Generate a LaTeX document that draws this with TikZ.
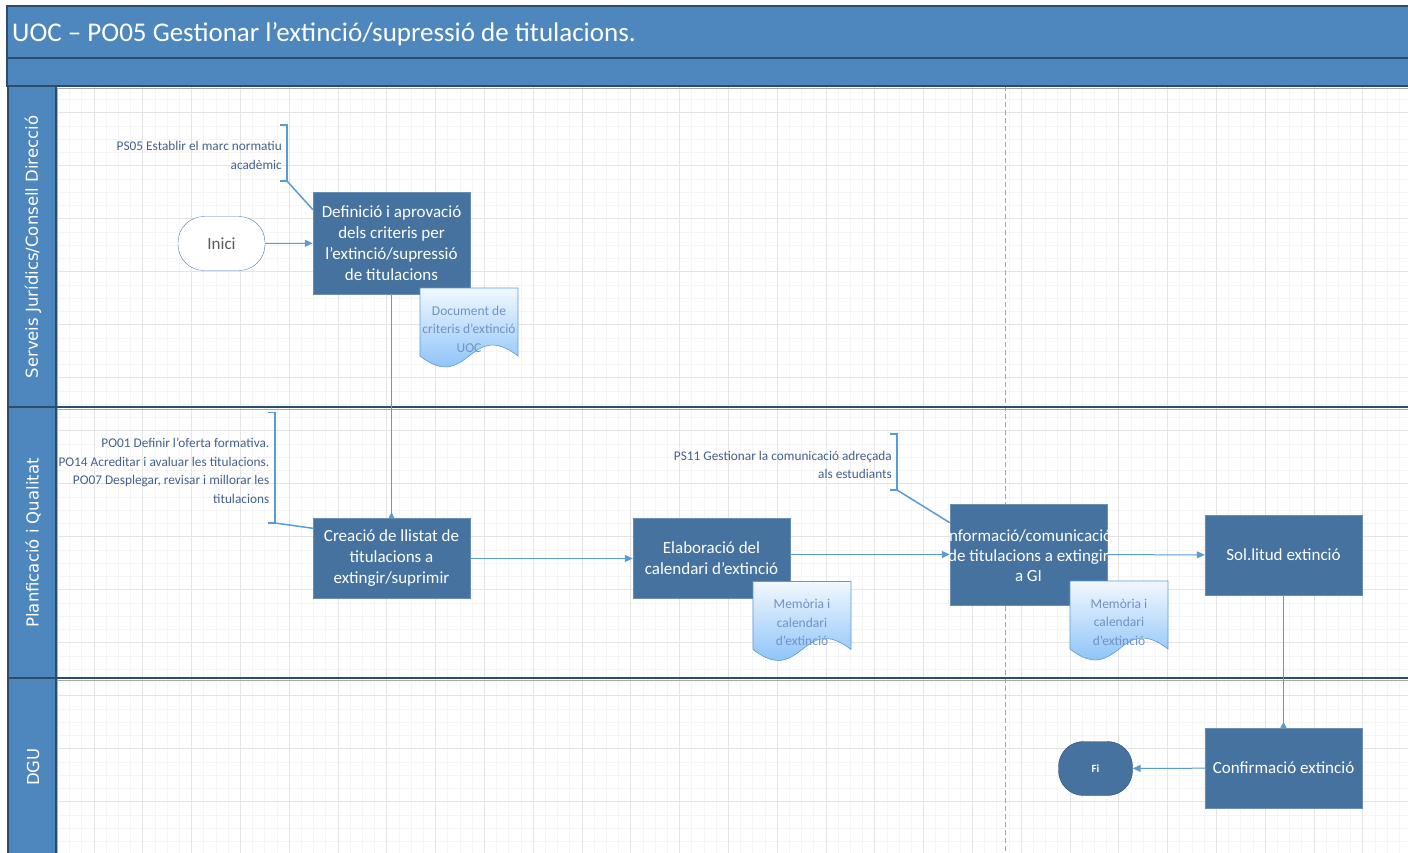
\documentclass[tikz,border=0pt]{standalone}
\usepackage{fontspec}
\setmainfont{Carlito}
\newfontfamily\lanefont{DejaVu Sans}
\usetikzlibrary{arrows.meta}
\definecolor{barblue}{HTML}{4E87BD}
\definecolor{edgeblue}{HTML}{2D4B6C}
\definecolor{boxblue}{HTML}{45729E}
\definecolor{linkblue}{HTML}{5B9BD5}
\definecolor{notetext}{HTML}{44618C}
\definecolor{doctext}{HTML}{6F93C4}
\definecolor{docwhite}{HTML}{F2F8FE}
\definecolor{docblue}{HTML}{6DB3F7}
\definecolor{gridminor}{HTML}{F5F5F5}
\definecolor{gridmajor}{HTML}{E4E4E4}
\tikzset{
  proc/.style={draw=boxblue!80!white, fill=boxblue, text=white, align=center, inner sep=0pt,
    minimum width=157pt, minimum height=80pt, font=\fontsize{17}{21}\selectfont},
  note/.style={text=notetext, align=right, anchor=east, inner sep=0pt, font=\fontsize{13.3}{18.7}\selectfont},
  bracket/.style={draw=linkblue, line width=1.5pt},
  link/.style={draw=linkblue, line width=1pt, -{Triangle[length=8pt,width=7pt]}},
  uplink/.style={draw=linkblue, line width=1pt, -{Triangle[reversed,length=6pt,width=6pt]}},
  doctxt/.style={text=doctext, align=center, inner sep=0pt, font=\fontsize{13.5}{18.5}\selectfont},
  lane/.style={text=white, rotate=90, inner sep=0pt, font=\lanefont\fontsize{16.5}{18}\selectfont},
}
% document symbol with wavy bottom: name, left x, top y, text
\newcommand{\docpaper}[4]{%
  \shade[top color=docwhite, bottom color=docblue, draw=linkblue, line width=0.6pt]
    (#2,#3) -- ({#2+98},#3) -- ({#2+98},{#3+68})
    .. controls ({#2+49},{#3+30}) and ({#2+49},{#3+106}) .. (#2,{#3+68}) -- cycle;
  \node[doctxt] (#1) at ({#2+49},{#3+41}) {#4};}
\begin{document}
\begin{tikzpicture}[x=1pt, y=-1pt]
  \useasboundingbox[fill=white] (0,0) rectangle (1408,853);
  % grid
  \foreach \k in {-3,...,107} \draw[gridminor, line width=0.8pt] ({94+12.2*\k},86) -- ({94+12.2*\k},853);
  \foreach \k in {2,...,59} \draw[gridminor, line width=0.8pt] (57,{59.7+13.25*\k}) -- (1408,{59.7+13.25*\k});
  \foreach \k in {0,...,26} \draw[gridmajor, line width=1pt] ({94+48.8*\k},86) -- ({94+48.8*\k},853);
  \foreach \k in {1,...,14} \draw[gridmajor, line width=1pt] (57,{59.7+53*\k}) -- (1408,{59.7+53*\k});
  \draw[gray!70, dash pattern=on 5pt off 3pt, line width=0.8pt] (1005,86) -- (1005,853);
  % title bars
  \draw[fill=barblue, draw=edgeblue, line width=1.2pt] (7,6) rectangle (1412,58);
  \draw[fill=barblue, draw=edgeblue, line width=1.5pt] (7,58) rectangle (1412,86);
  \draw[gray!70, line width=1.5pt] (57,88.5) -- (1408,88.5);
  \node[anchor=west, text=white, inner sep=0pt, font=\fontsize{27}{30}\selectfont] (title) at (12,34)
    {UOC – PO05 Gestionar l’extinció/supressió de titulacions.};
  % lanes
  \draw[fill=barblue, draw=edgeblue, line width=2pt] (8,86) rectangle (56,407);
  \draw[fill=barblue, draw=edgeblue, line width=2pt] (8,407) rectangle (56,678);
  \draw[fill=barblue, draw=edgeblue, line width=2pt] (8,678) rectangle (56,860);
  \draw[gray!60, line width=1.2pt] (57.5,88) -- (57.5,853);
  \draw[edgeblue, line width=2pt] (56,406.5) -- (1408,406.5);
  \draw[gray!70, line width=1.5pt] (57,409.5) -- (1408,409.5);
  \draw[edgeblue, line width=2pt] (56,677.5) -- (1408,677.5);
  \draw[gray!70, line width=1.5pt] (57,680.5) -- (1408,680.5);
  \node[lane] (lsj) at (33,247) {Serveis Jurídics/Consell Direcció};
  \node[lane] (lpq) at (33,543) {Planficació i Qualitat};
  \node[lane] (ldgu) at (33,767) {DGU};

  % steps
  \node[draw=linkblue!80!black, fill=white, rounded corners=26pt, minimum width=87pt, minimum height=54pt,
    text=black!65, font=\fontsize{17}{19}\selectfont] (inici) at (221.5,243.5) {Inici};
  \node[proc, minimum height=102pt] (def) at (391.5,243)
    {Definició i aprovació\\dels criteris per\\l’extinció/supressió\\de titulacions};
  \node[proc] (creacio) at (391.5,558.5) {Creació de llistat de\\titulacions a\\extingir/suprimir};
  \node[proc] (elab) at (711.5,558.5) {Elaboració del\\calendari d’extinció};
  \node[proc, minimum height=101pt] (info) at (1028.5,554.5) {};
  \begin{scope}
    \clip (info.south west) rectangle (info.north east);
    \node[text=white, align=center, inner sep=0pt, font=\fontsize{17}{20}\selectfont] (infotxt) at (1028.5,556)
      {Informació/comunicació\\de titulacions a extingir\\a GI};
  \end{scope}
  \node[proc] (sol) at (1283.5,555) {Sol.litud extinció};
  \node[proc] (conf) at (1283.5,768) {Confirmació extinció};
  \node[draw=edgeblue, fill=boxblue, rounded corners=25pt, minimum width=74pt, minimum height=54pt,
    text=white, font=\bfseries\fontsize{11}{12}\selectfont] (fi) at (1095.5,768.5) {Fi};

  % documents
  \docpaper{docuoc}{420}{288}{Document de\\criteris d’extinció\\UOC}
  \docpaper{memcal}{753}{581.5}{Memòria i\\calendari\\d’extinció}
  \docpaper{memgi}{1070}{581}{Memòria i\\calendari\\d’extinció}

  % related processes
  \node[note] (ps05) at (282,155.5) {PS05 Establir el marc normatiu\\acadèmic};
  \draw[bracket] (280,125) -- (287,125) -- (287,181) -- (280,181);
  \coordinate (ps05b) at (287,181);
  \draw[bracket] (ps05b) -- (def.157);
  \node[note] (po) at (269.5,471) {PO01 Definir l’oferta formativa.\\PO14 Acreditar i avaluar les titulacions.\\PO07 Desplegar, revisar i millorar les\\titulacions\ };
  \draw[bracket] (268,412.5) -- (275,412.5) -- (275,523) -- (268,523);
  \coordinate (pob) at (275,523);
  \draw[bracket] (pob) -- (creacio.159);
  \node[note] (ps11) at (892,465) {PS11 Gestionar la comunicació adreçada\\als estudiants};
  \draw[bracket] (890,434) -- (897,434) -- (897,490) -- (890,490);
  \coordinate (ps11b) at (897,490);
  \draw[bracket] (ps11b) -- (info.158);

  % flow
  \draw[link] (inici) -- (def);
  \draw[uplink] (def) -- (creacio);
  \draw[link] (creacio) -- (elab);
  \draw[link] (elab.east |- info.west) -- (info.west);
  \draw[link] (info) -- (sol);
  \draw[uplink] (sol) -- (conf);
  \draw[link] (conf) -- (fi);
\end{tikzpicture}
\end{document}
